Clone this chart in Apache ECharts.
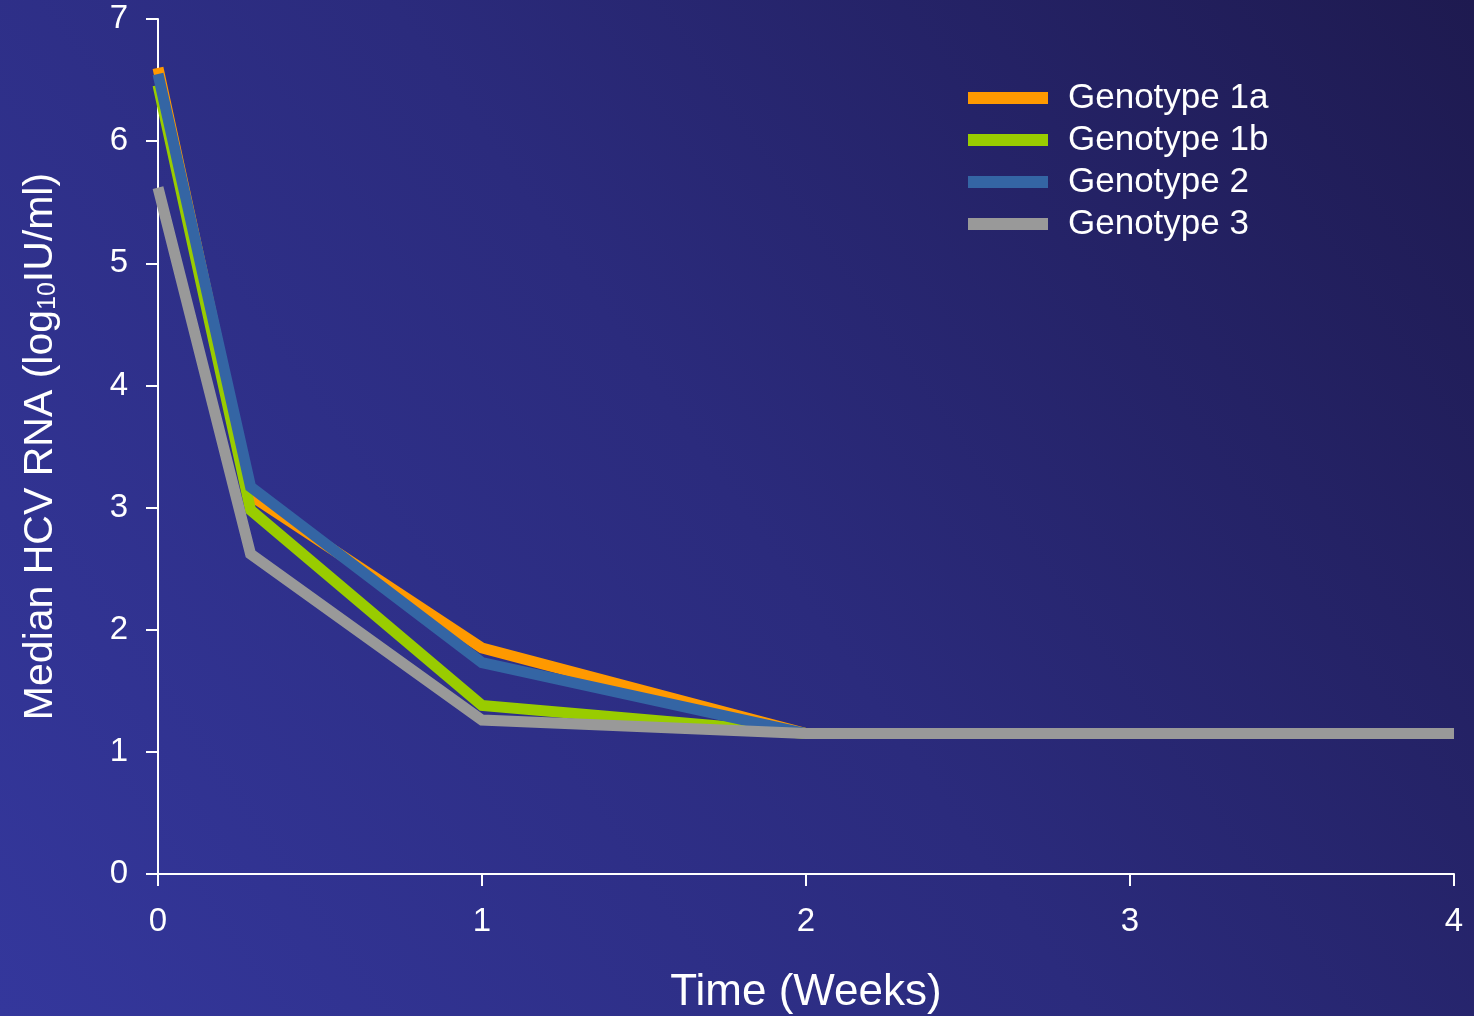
<!DOCTYPE html>
<html><head><meta charset="utf-8">
<script src="https://cdn.jsdelivr.net/npm/echarts@6/dist/echarts.min.js"></script>
<style>html,body{margin:0;padding:0;}#c{width:1474px;height:1016px;}</style>
</head><body><div id="c"></div>
<script>
const timeWeeks = [0, 2/7, 1, 2, 4];
const seriesNames = ['Genotype 1a', 'Genotype 1b', 'Genotype 2', 'Genotype 3'];
const genotype1a = [6.60, 3.10, 1.85, 1.15, 1.15];
const genotype1b = [6.46, 2.98, 1.38, 1.15, 1.15];
const genotype2 = [6.55, 3.17, 1.73, 1.15, 1.15];
const genotype3 = [5.62, 2.62, 1.26, 1.15, 1.15];
const xTicks = [0, 1, 2, 3, 4];
const yTicks = [0, 1, 2, 3, 4, 5, 6, 7];
const colors = ['#FF9900', '#99CC00', '#3465A4', '#999999'];
const values = [genotype1a, genotype1b, genotype2, genotype3];

const font = 'Liberation Sans, Arial, sans-serif';
const chart = echarts.init(document.getElementById('c'));
chart.setOption({
  backgroundColor: {type:'linear', x:0, y:1, x2:1, y2:0, colorStops:[
    {offset:0, color:'#34379c'}, {offset:0.5, color:'#2b2b7d'}, {offset:1, color:'#1e1a50'}]},
  animation: false,
  textStyle: {fontFamily: font},
  grid: {left:158, right:20, top:19, bottom:142, containLabel:false, outerBoundsMode:'none'},
  legend: {
    orient:'vertical', left:963, top:74, itemWidth:80, itemHeight:12, itemGap:4,
    icon:'rect',
    textStyle:{color:'#ffffff', fontSize:35, fontFamily:font, lineHeight:38, padding:[0,0,0,15]},
    data: seriesNames
  },
  xAxis: {
    type:'value', min:xTicks[0], max:xTicks[xTicks.length-1], interval:1,
    name:'Time (Weeks)', nameLocation:'middle', nameGap:97,
    nameTextStyle:{color:'#ffffff', fontSize:44, fontFamily:font},
    axisLine:{show:true, lineStyle:{color:'#ffffff', width:2}},
    axisTick:{show:true, length:12, lineStyle:{color:'#ffffff', width:2}},
    axisLabel:{color:'#ffffff', fontSize:33, margin:31, fontFamily:font},
    splitLine:{show:false}
  },
  yAxis: {
    type:'value', min:yTicks[0], max:yTicks[yTicks.length-1], interval:1,
    name:'{a|Median HCV RNA (log}{s|10}{a|IU/ml)}', nameLocation:'middle', nameGap:97,
    nameTextStyle:{color:'#ffffff', fontSize:41, fontFamily:font,
      rich:{a:{color:'#ffffff', fontSize:41, fontFamily:font}, s:{color:'#ffffff', fontSize:25, fontFamily:font, padding:[16,0,0,0]}}},
    axisLine:{show:true, lineStyle:{color:'#ffffff', width:2}},
    axisTick:{show:true, length:12, lineStyle:{color:'#ffffff', width:2}},
    axisLabel:{color:'#ffffff', fontSize:33, margin:30, fontFamily:font},
    splitLine:{show:false}
  },
  series: seriesNames.map((n,i)=>({
    name:n, type:'line', showSymbol:false, symbol:'none',
    data: timeWeeks.map((t,j)=>[t, values[i][j]]),
    lineStyle:{color:colors[i], width:11, join:'miter'},
    itemStyle:{color:colors[i]},
    z: 2+i
  }))
});
</script></body></html>
